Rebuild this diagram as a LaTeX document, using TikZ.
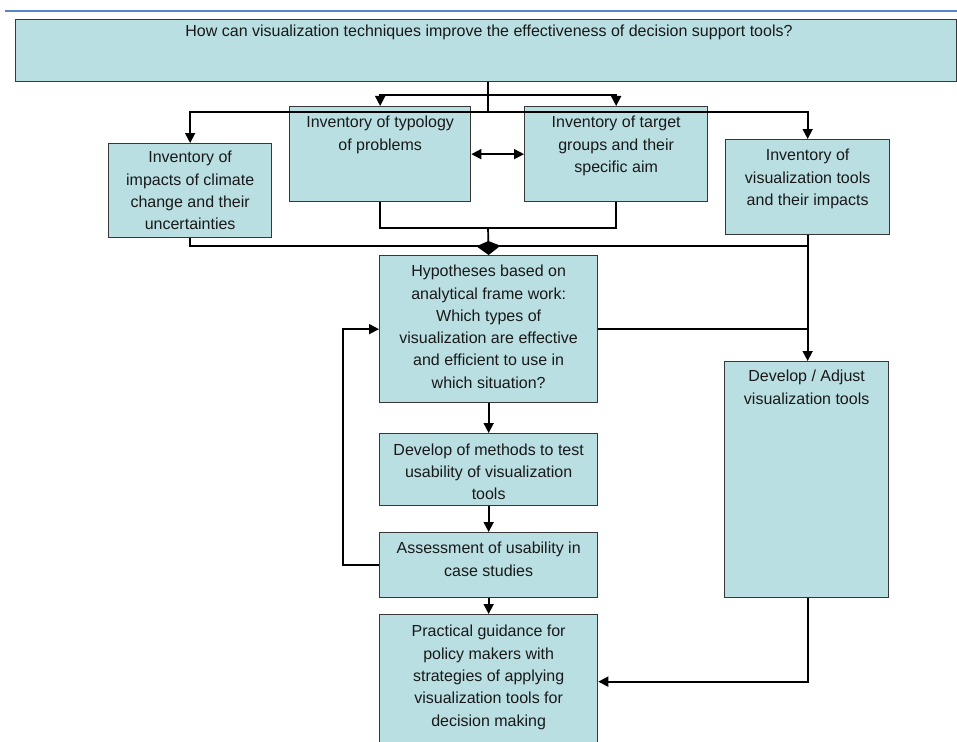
\documentclass[tikz,border=0pt]{standalone}
\usepackage{fontspec}
\setmainfont{Liberation Sans}
\usetikzlibrary{arrows.meta}
\definecolor{boxfill}{RGB}{186,223,227}
\definecolor{boxline}{RGB}{55,55,55}
\definecolor{topblue}{RGB}{84,134,204}
\begin{document}
\begin{tikzpicture}[x=1pt,y=-1pt,
  box/.style={draw=boxline, line width=1.3pt, fill=boxfill, anchor=north west, inner sep=0pt},
  txt/.style={anchor=north, align=center, inner sep=0pt, font=\fontsize{16}{22.3}\selectfont, text=black!90},
  conn/.style={draw=black, line width=1.7pt},
  arr/.style={conn, -{Triangle[length=10pt,width=10pt]}},
  darr/.style={conn, {Triangle[length=10pt,width=10pt]}-{Triangle[length=10pt,width=10pt]}},
  kitearr/.style={conn, -{Kite[length=14pt,width=24pt,inset=5pt]}}
]
\useasboundingbox (0,0) rectangle (957,741);
\fill[white] (0,0) rectangle (957,741);
\draw[topblue, line width=2.8pt] (5,11) -- (957,11);

% boxes
\node[box, minimum width=941pt, minimum height=62pt] (title) at (15,19) {};
\node[box, minimum width=163pt, minimum height=94pt] (impacts) at (108,143) {};
\node[box, minimum width=181pt, minimum height=95pt] (typo) at (289,106) {};
\node[box, minimum width=183pt, minimum height=95pt] (target) at (524,106) {};
\node[box, minimum width=164pt, minimum height=95pt] (viz) at (725,139) {};
\node[box, minimum width=218pt, minimum height=147pt] (hyp) at (379,255) {};
\node[box, minimum width=218pt, minimum height=72pt] (methods) at (379,433) {};
\node[box, minimum width=218pt, minimum height=65pt] (assess) at (379,532) {};
\node[box, minimum width=218pt, minimum height=134pt] (practical) at (379,614) {};
\node[box, minimum width=164pt, minimum height=236pt] (devadj) at (724,361) {};

% texts
\node[txt] (title-t) at ([yshift=-6pt]title.north -| 489,0) {How can visualization techniques improve the effectiveness of decision support tools?};
\node[txt] (impacts-t) at ([yshift=-8pt]impacts.north) {Inventory of\\impacts of climate\\change and their\\uncertainties};
\node[txt] (typo-t) at ([yshift=-10pt]typo.north) {Inventory of typology\\of problems};
\node[txt] (target-t) at ([yshift=-10pt]target.north) {Inventory of target\\groups and their\\specific aim};
\node[txt] (viz-t) at ([yshift=-10pt]viz.north) {Inventory of\\visualization tools\\and their impacts};
\node[txt] (hyp-t) at ([yshift=-10pt]hyp.north) {Hypotheses based on\\analytical frame work:\\Which types of\\visualization are effective\\and efficient to use in\\which situation?};
\node[txt] (methods-t) at ([yshift=-10.5pt]methods.north) {Develop of methods to test\\usability of visualization\\tools};
\node[txt] (assess-t) at ([yshift=-10pt]assess.north) {Assessment of usability in\\case studies};
\node[txt] (practical-t) at ([yshift=-11pt]practical.north) {Practical guidance for\\policy makers with\\strategies of applying\\visualization tools for\\decision making};
\node[txt] (devadj-t) at ([yshift=-9pt]devadj.north) {Develop / Adjust\\visualization tools};

% junction coordinates
\coordinate (j1) at (488,95);
\coordinate (j2) at (488,112);
\coordinate (m) at (488,228);
\coordinate (k) at (488,246);

% connectors
\draw[conn] (title.south -| j2) -- (j2);
\draw[arr] (j1) -| (typo.north);
\draw[arr] (j1) -| (target.north);
\draw[arr] (j2) -| (impacts.north);
\draw[arr] (j2) -| (viz.north);
\draw[darr] (typo.east) -- (target.west);
\draw[conn] (typo.south) |- (m);
\draw[conn] (target.south) |- (m);
\draw[conn] (impacts.south) |- (k);
\draw[conn] (viz.south) |- (k);
\draw[kitearr] (m) -- (hyp.north);
\draw[arr] (viz.south) -- (viz.south |- devadj.north);
\draw[conn] (hyp.east) -- (hyp.east -| viz.south);
\draw[arr] (hyp.south) -- (methods.north);
\draw[arr] (methods.south) -- (assess.north);
\draw[arr] (assess.south) -- (practical.north);
\draw[arr] (assess.west) -- ++(-36,0) |- (hyp.west);
\draw[arr] (devadj.south -| viz.south) |- (practical.east);
\end{tikzpicture}
\end{document}
